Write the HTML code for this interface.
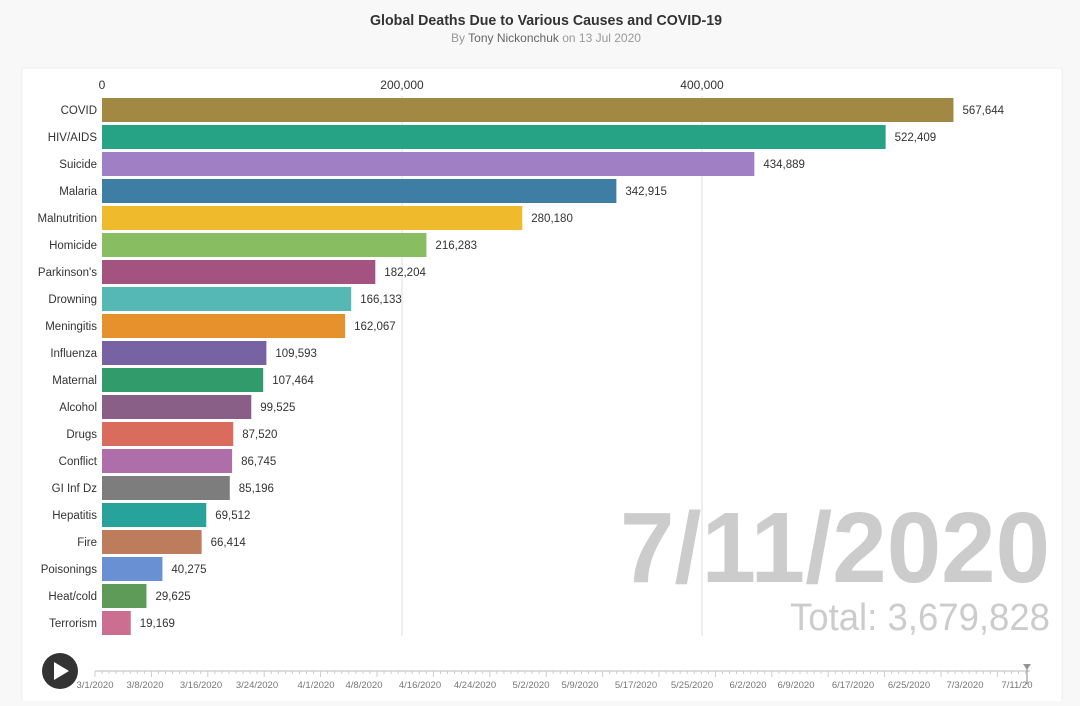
<!DOCTYPE html>
<html><head><meta charset="utf-8"><style>
body{margin:0;background:#f8f8f8;width:1080px;height:701px;overflow:hidden;font-family:"Liberation Sans",sans-serif}
</style></head><body>
<svg width="1080" height="701" xmlns="http://www.w3.org/2000/svg" font-family="Liberation Sans, sans-serif">
<text x="546" y="25" text-anchor="middle" font-size="15" font-weight="bold" fill="#333" textLength="352" lengthAdjust="spacingAndGlyphs">Global Deaths Due to Various Causes and COVID-19</text>
<text x="546" y="42" text-anchor="middle" font-size="12" fill="#999">By <tspan fill="#666">Tony Nickonchuk</tspan> on 13 Jul 2020</text>
<rect x="22" y="68" width="1040" height="650" fill="#fff" stroke="#eee"/>
<g font-size="12" fill="#333" text-anchor="middle">
<text x="102" y="89">0</text><text x="402" y="89">200,000</text><text x="702" y="89">400,000</text>
</g>
<line x1="402" y1="96" x2="402" y2="636" stroke="#ddd"/>
<line x1="702" y1="96" x2="702" y2="636" stroke="#ddd"/>
<g id="bars" font-size="11.5" fill="#333"></g>
<text x="1050" y="582" text-anchor="end" font-size="100" font-weight="bold" fill="#ccc" textLength="430" lengthAdjust="spacingAndGlyphs">7/11/2020</text>
<text x="1050" y="630" text-anchor="end" font-size="38" fill="#ccc" textLength="260" lengthAdjust="spacingAndGlyphs">Total: 3,679,828</text>
<circle cx="60" cy="671" r="18" fill="#333"/>
<polygon points="54,662 54,680 69,671" fill="#fff"/>
<line x1="95" y1="671" x2="1030" y2="671" stroke="#bbb"/>
<g id="ticks" stroke="#ccc"></g>
<polygon points="1023,664 1031,664 1027,670" fill="#999"/>
<line x1="1027" y1="664" x2="1027" y2="684" stroke="#888"/>
<g id="tl" font-size="9.5" fill="#777" text-anchor="middle"></g>
</svg>
<script>
var d=[["COVID",567644,"#a18943"],["HIV/AIDS",522409,"#26a385"],["Suicide",434889,"#a07fc4"],["Malaria",342915,"#3e7ea4"],["Malnutrition",280180,"#efba2b"],["Homicide",216283,"#89bd62"],["Parkinson's",182204,"#a4527f"],["Drowning",166133,"#55b8b4"],["Meningitis",162067,"#e7912d"],["Influenza",109593,"#7762a3"],["Maternal",107464,"#319b6c"],["Alcohol",99525,"#895f88"],["Drugs",87520,"#d96c5c"],["Conflict",86745,"#ad6eaa"],["GI Inf Dz",85196,"#7d7d7d"],["Hepatitis",69512,"#28a39b"],["Fire",66414,"#bd7d5c"],["Poisonings",40275,"#6a90d4"],["Heat/cold",29625,"#5f9b58"],["Terrorism",19169,"#cc6e90"]];
var g=document.getElementById('bars'),s='';
d.forEach(function(r,i){var y=98+27*i,w=r[1]*0.0015;
s+='<rect x="102" y="'+y+'" width="'+w+'" height="24" fill="'+r[2]+'"/>';
s+='<text x="97" y="'+(y+16)+'" text-anchor="end">'+r[0]+'</text>';
s+='<text x="'+(102+w+9)+'" y="'+(y+16)+'">'+r[1].toLocaleString('en-US')+'</text>';});
g.innerHTML=s;
var t='';for(var i=0;i<=132;i++){var x=95+i*7.05;t+='<line x1="'+x+'" y1="671" x2="'+x+'" y2="'+(i%8==0?677:674)+'"/>';}
document.getElementById('ticks').innerHTML=t;
var L=["3/1/2020","3/8/2020","3/16/2020","3/24/2020","4/1/2020","4/8/2020","4/16/2020","4/24/2020","5/2/2020","5/9/2020","5/17/2020","5/25/2020","6/2/2020","6/9/2020","6/17/2020","6/25/2020","7/3/2020","7/11/20"];
var X=[95,145,201,257,316,364,420,475,531,580,636,692,748,796,853,909,965,1017];
var u='';L.forEach(function(l,i){u+='<text x="'+X[i]+'" y="688">'+l+'</text>';});
document.getElementById('tl').innerHTML=u;
</script>
</body></html>
